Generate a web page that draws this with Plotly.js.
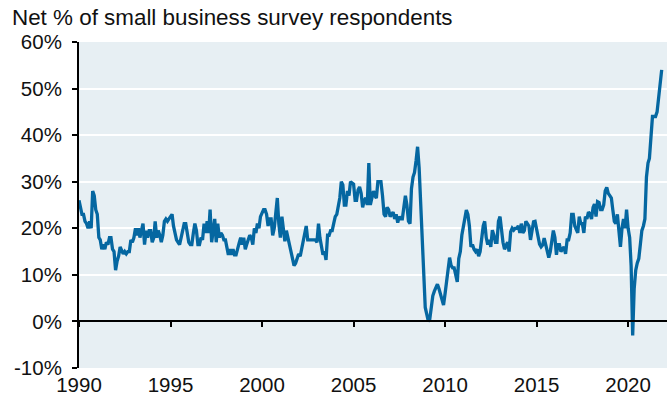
<!DOCTYPE html>
<html>
<head>
<meta charset="utf-8">
<script src="https://cdn.plot.ly/plotly-3.0.1.min.js"></script>
<style>
  html, body { margin: 0; padding: 0; background: #ffffff; }
  #chart { width: 667px; height: 402px; }
</style>
</head>
<body>
<div id="chart"></div>
<script>
// Monthly series, starting January 1990 (net % of respondents)
const startYear = 1990;
const netPercent = [
  // 1990
  26, 24, 23, 23, 21.5, 21, 20, 21.5, 20, 28, 27, 24,
  // 1991
  23, 18, 17.5, 15.5, 16.5, 15.5, 17, 16.5, 18, 18, 15.5, 15,
  // 1992
  11, 13, 14, 16, 15, 14.5, 15, 14.5, 15, 15, 17.5, 17,
  // 1993
  18, 20, 18.5, 20, 18, 20, 21, 16.5, 19.5, 18, 19.5, 19.5,
  // 1994
  17, 18, 21.5, 18, 19.5, 18.5, 17, 18.5, 21.5, 22, 21.5, 22,
  // 1995
  22.5, 23, 20.5, 19, 17.5, 17, 16.5, 18, 20, 21, 21, 19,
  // 1996
  17, 16.5, 16.5, 19, 21, 19.5, 16.5, 16.5, 18, 17.5, 21, 19,
  // 1997
  21.5, 19, 24, 17, 19, 22, 17, 21, 18, 19, 18.5, 17.5,
  // 1998
  17.5, 16, 14.3, 15.5, 14.3, 15.5, 14.3, 14.3, 16, 16.8, 18, 16.5,
  // 1999
  18, 15.5, 16.5, 17.5, 18.5, 18, 16.5, 20, 19, 21, 20, 22.5,
  // 2000
  23.5, 24, 24, 23, 20.5, 22, 22, 18.5, 20, 24, 26.5, 21,
  // 2001
  18, 22.5, 20, 17.2, 19.5, 18, 16.5, 14.8, 13, 12, 12.5, 13.5,
  // 2002
  14.5, 14, 15.4, 17.5, 19, 20.5, 17.5, 17.5, 17.5, 17.5, 17.5, 17.5,
  // 2003
  17, 21, 18, 15.5, 14.3, 15, 13.2, 18.5, 18.5, 19.5, 19.5, 21,
  // 2004
  22.5, 23, 24.5, 26.5, 30, 29.3, 25, 25, 28, 27, 30, 29.8,
  // 2005
  29.5, 26, 26, 28.2, 28.9, 27.5, 24.5, 26, 26.5, 25, 34, 25,
  // 2006
  27, 28, 27, 26.5, 30, 30, 30, 27, 23, 22.5, 24.5, 24,
  // 2007
  22.5, 23, 23.5, 22, 23, 21.2, 22.5, 22, 22, 24.5, 27, 25,
  // 2008
  21.5, 21, 28.5, 31, 32, 34.5, 37.5, 33, 25, 17, 9, 3,
  // 2009
  1.5, 0, 0.5, 3, 5.5, 6.5, 7.5, 8, 7, 6, 5, 3.5,
  // 2010
  6, 9, 11, 13.7, 12, 11.5, 11.5, 9.5, 8.5, 13.5, 15, 18.5,
  // 2011
  20.4, 22, 23.9, 23, 20.5, 16, 16.5, 15.5, 15, 15.5, 14, 15,
  // 2012
  18.6, 20.5, 21.5, 18, 16.5, 17.5, 16, 19.6, 18.5, 17, 17, 21.5,
  // 2013
  22.5, 19.5, 17, 15.5, 16.5, 17, 15, 19.2, 20, 19.6, 20, 20,
  // 2014
  20.5, 19, 21, 19, 19.5, 21.5, 21, 20.5, 17.5, 20, 21.4, 21.5,
  // 2015
  20, 18.5, 16.6, 16, 16.4, 17.9, 16.5, 14.8, 13.7, 15, 18, 19.5,
  // 2016
  18, 14.3, 16.5, 16.5, 15, 15.7, 16, 14.5, 17.5, 17.5, 19, 23,
  // 2017
  23, 20.5, 19.5, 19, 22.5, 21, 21, 19, 22.5, 22, 23.5, 23,
  // 2018
  22, 24.5, 25.2, 22.5, 25.7, 25.5, 24, 24, 25, 28, 28.8, 27.5,
  // 2019
  27, 26.5, 24, 21.5, 21, 23, 19.5, 16, 20, 22, 20, 24,
  // 2020
  20, 18, 12, -3, 7, 11, 12.5, 13.5, 16.5, 19.5, 20.5, 22,
  // 2021
  31, 34, 35, 41, 44, 44, 44, 45, 48, 51, 54
];

const tickYears = ['1990', '1995', '2000', '2005', '2010', '2015', '2020'];
const yTicks = [-10, 0, 10, 20, 30, 40, 50, 60];
const yTickText = ['-10%', '0%', '10%', '20%', '30%', '40%', '50%', '60%'];

const dates = netPercent.map((v, i) => {
  const y = startYear + Math.floor(i / 12);
  const m = (i % 12) + 1;
  return y + '-' + (m < 10 ? '0' + m : m) + '-01';
});
const tickDates = tickYears.map(y => y + '-01-01');

const xRange = ['1990-01-01', '2022-02-15'];
const lineColor = '#0567a1';
const fontFam = 'Liberation Sans, Arial, sans-serif';

const traces = [
  {
    type: 'scatter', mode: 'lines',
    x: dates, y: netPercent,
    line: { color: lineColor, width: 3.3 },
    hoverinfo: 'skip', showlegend: false
  },
  {
    type: 'scatter', mode: 'lines',
    x: [], y: [], xaxis: 'x2', yaxis: 'y',
    hoverinfo: 'skip', showlegend: false
  }
];

const layout = {
  width: 667, height: 402,
  margin: { l: 79, r: 0, t: 42, b: 34, pad: 0 },
  paper_bgcolor: '#ffffff',
  plot_bgcolor: '#e7eff3',
  font: { family: fontFam, color: '#111111', size: 20 },
  title: {
    text: 'Net % of small business survey respondents',
    x: 12 / 667, xanchor: 'left', xref: 'container',
    y: 1 - 17 / 402, yanchor: 'middle', yref: 'container',
    font: { family: fontFam, size: 22.4, color: '#111111' }
  },
  xaxis: {
    type: 'date', range: xRange,
    tickmode: 'array', tickvals: tickDates, ticktext: tickYears,
    showline: false, ticks: '', showgrid: false, zeroline: false,
    ticklabelstandoff: 2,
    tickfont: { family: fontFam, size: 20.5, color: '#111111' }
  },
  xaxis2: {
    type: 'date', range: xRange, overlaying: 'x', anchor: 'free', position: 1 / 7,
    tickmode: 'array', tickvals: tickDates,
    showticklabels: false, showgrid: false, zeroline: false,
    showline: true, linecolor: '#000000', linewidth: 2,
    ticks: 'outside', ticklen: 5, tickwidth: 2, tickcolor: '#000000'
  },
  yaxis: {
    range: [-10, 60],
    tickmode: 'array', tickvals: yTicks, ticktext: yTickText,
    showline: true, linecolor: '#000000', linewidth: 2,
    ticks: 'outside', ticklen: 5, tickwidth: 2, tickcolor: '#000000',
    showgrid: true, gridcolor: '#ffffff', gridwidth: 2,
    zeroline: false, ticklabelstandoff: 6,
    tickfont: { family: fontFam, size: 20.5, color: '#111111' }
  },
  showlegend: false
};

Plotly.newPlot('chart', traces, layout, { staticPlot: true, displayModeBar: false });
</script>
</body>
</html>
